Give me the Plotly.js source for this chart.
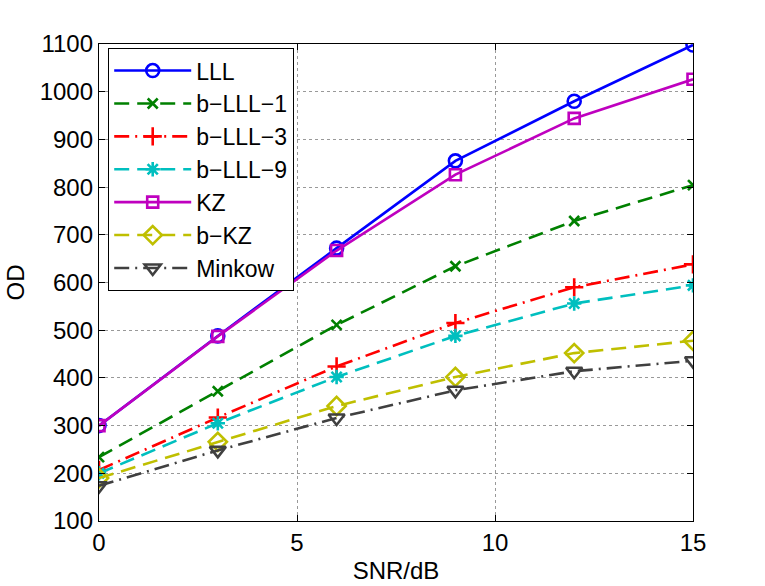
<!DOCTYPE html>
<html>
<head>
<meta charset="utf-8">
<script src="https://cdn.plot.ly/plotly-3.0.1.min.js"></script>
<style>html,body{margin:0;padding:0;background:#fff;}#chart{width:765px;height:586px;}</style>
</head>
<body>
<div id="chart"></div>
<script>
const snr = [0, 3, 6, 9, 12, 15];
const seriesNames = ["LLL", "b\u2212LLL\u22121", "b\u2212LLL\u22123", "b\u2212LLL\u22129", "KZ", "b\u2212KZ", "Minkow"];
const lll   = [300, 488, 672, 855, 980, 1098];
const blll1 = [234, 372, 511, 634, 729, 804];
const blll3 = [207, 317, 424, 515, 590, 638];
const blll9 = [200, 305, 402, 488, 556, 594];
const kz    = [300, 487, 667, 826, 944, 1026];
const bkz   = [190, 266, 341, 402, 452, 478];
const mink  = [174, 248, 316, 374, 414, 436];

const values = [lll, blll1, blll3, blll9, kz, bkz, mink];
const colors = ["#0000ff", "#008000", "#ff0000", "#00bfbf", "#bf00bf", "#bfbf00", "#404040"];
const dashes = ["solid", "15px,8px", "15px,6px,2px,6px", "15px,8px", "solid", "15px,8px", "15px,6px,2px,6px"];
const symbols = ["circle-open", "x-thin-open", "cross-thin-open", "asterisk-open", "square-open", "diamond-open", "triangle-down-open"];
const sizes = [13, 10, 13, 12, 11, 14, 14];

const traces = values.map((v, i) => ({
  x: snr, y: v, name: seriesNames[i], type: "scatter", mode: "lines+markers",
  legendgroup: "g" + i,
  line: {color: colors[i], width: 2.6, dash: dashes[i]},
  marker: {symbol: symbols[i], size: sizes[i], color: colors[i], line: {color: colors[i], width: 2.6}}
}));

const font = {family: "Liberation Sans, Arial, sans-serif", size: 24, color: "#000"};
const legFont = {family: "Liberation Sans, Arial, sans-serif", size: 23, color: "#000"};
const layout = {
  width: 765, height: 586,
  margin: {l: 99, r: 72, t: 44, b: 65},
  paper_bgcolor: "#fff", plot_bgcolor: "#fff",
  font: font,
  showlegend: true,
  legend: {x: 0.015, y: 0.992, xanchor: "left", yanchor: "top", bgcolor: "#fff",
           bordercolor: "#000", borderwidth: 1.3, font: legFont, tracegroupgap: 0, itemwidth: 77},
  xaxis: {range: [0, 15], tickvals: [0, 5, 10, 15], ticks: "inside", ticklen: 6, tickcolor: "#000",
          showline: true, linecolor: "#000", linewidth: 1.3, mirror: "ticks",
          showgrid: true, gridcolor: "#999", griddash: "dot", gridwidth: 1, zeroline: false,
          tickfont: font, title: {text: "SNR/dB", font: font, standoff: 7}},
  yaxis: {range: [100, 1100], dtick: 100, ticks: "inside", ticklen: 6, tickcolor: "#000",
          showline: true, linecolor: "#000", linewidth: 1.3, mirror: "ticks",
          showgrid: true, gridcolor: "#999", griddash: "dot", gridwidth: 1, zeroline: false,
          tickfont: font, title: {text: "OD", font: font, standoff: 8}}
};
Plotly.newPlot("chart", traces, layout, {displayModeBar: false});
</script>
</body>
</html>
